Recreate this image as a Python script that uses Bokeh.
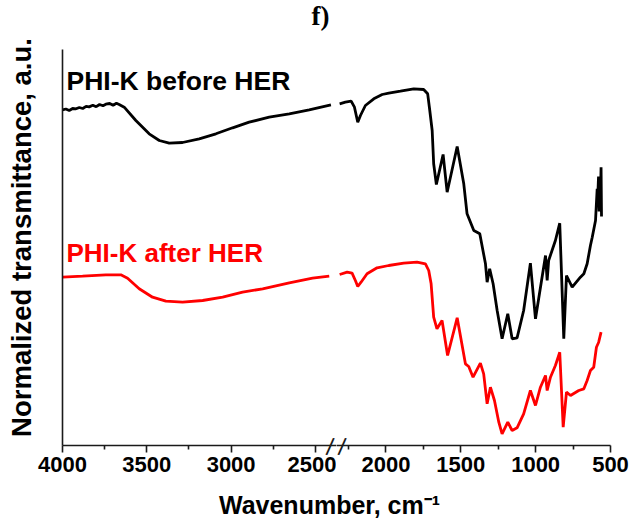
import math
from bokeh.plotting import figure
from bokeh.models import Range1d, FixedTicker, Label
from bokeh.layouts import row, column
from bokeh.embed import file_html
from bokeh.resources import INLINE

# ---------------- data (wavenumber, normalized transmittance a.u.) ----------------
before_left_wn = [4000, 3980, 3960, 3940, 3920, 3900, 3880, 3860, 3842, 3820, 3800, 3780, 3760,
                  3743, 3720, 3700, 3680, 3664, 3634, 3565, 3486, 3426, 3367, 3288, 3189, 3090,
                  2991, 2893, 2774, 2655, 2537, 2408]
before_left_T = [335.7, 336.5, 335.0, 337.0, 336.7, 338.0, 337.0, 339.2, 338.6, 340.2, 338.8, 341.0,
                 339.8, 341.3, 342.0, 340.2, 342.2, 341.0, 338.3, 325.0, 311.7, 305.0, 302.3, 303.0,
                 306.7, 311.7, 317.7, 323.3, 328.3, 331.7, 335.7, 340.7]

before_right_wn = [2309, 2271, 2232, 2210, 2188, 2170, 2137, 2081, 2025, 1981, 1903, 1814, 1748,
                   1721, 1707, 1691, 1681, 1663, 1618, 1591, 1524, 1480, 1458, 1413, 1373, 1335,
                   1324, 1307, 1284, 1257, 1224, 1186, 1157, 1124, 1080, 1035, 1001, 934, 923, 913,
                   868, 839, 812, 794, 756, 701, 678, 656, 634, 622, 600, 589, 585, 580, 576, 572,
                   568, 563, 560]
before_right_T = [341.7, 343.3, 344.3, 338.3, 323.3, 330.0, 340.0, 346.7, 351.0, 352.3, 354.3, 356.7,
                  356.0, 351.7, 335.0, 315.0, 281.7, 261.0, 291.0, 253.3, 299.0, 261.7, 231.7, 215.0,
                  211.7, 181.7, 163.3, 176.7, 161.7, 135.0, 106.7, 131.7, 106.7, 107.7, 135.0, 182.3,
                  126.7, 190.0, 165.0, 185.0, 205.0, 222.3, 106.7, 170.0, 158.3, 168.3, 171.7, 181.7,
                  200.0, 208.3, 225.0, 256.7, 249.0, 269.0, 234.0, 268.3, 245.0, 278.3, 229.0]

after_left_wn = [4000, 3881, 3743, 3654, 3614, 3545, 3466, 3387, 3288, 3169, 3050, 2932, 2813,
                 2655, 2517, 2418]
after_left_T = [168.3, 169.3, 170.7, 170.7, 167.3, 156.7, 148.3, 144.3, 143.3, 145.0, 148.3, 153.3,
                156.7, 162.7, 167.3, 169.3]

after_right_wn = [2309, 2259, 2226, 2204, 2188, 2166, 2126, 2059, 1981, 1881, 1792, 1736, 1714,
                  1698, 1681, 1659, 1625, 1588, 1524, 1469, 1447, 1418, 1369, 1347, 1324, 1302,
                  1275, 1246, 1224, 1186, 1157, 1124, 1080, 1035, 1001, 968, 934, 923, 901, 868,
                  839, 816, 794, 767, 712, 678, 656, 634, 612, 594, 579, 563]
after_right_T = [171.0, 173.3, 172.3, 165.0, 159.0, 163.3, 171.7, 177.7, 180.0, 182.3, 183.3, 181.7,
                 175.0, 161.7, 128.3, 116.7, 125.0, 90.0, 127.7, 81.7, 79.0, 68.3, 82.3, 71.7, 41.7,
                 58.3, 45.0, 23.3, 11.7, 23.3, 15.0, 17.7, 31.7, 55.0, 40.0, 58.3, 70.0, 55.0, 68.3,
                 80.0, 93.3, 18.3, 53.3, 50.0, 55.0, 56.7, 65.0, 75.0, 78.3, 98.3, 103.3, 113.3]

left_major_ticks = [4000, 3500, 3000, 2500]
left_minor_ticks = [3750, 3250, 2750]
right_major_ticks = [2000, 1500, 1000, 500]
right_minor_ticks = [2250, 1750, 1250, 750]

# ---------------- layout ----------------
W, H = 631, 526
ROW_H = 483
FRAME_L, FRAME_BRK, FRAME_R = 62, 336, 610
FRAME_T, FRAME_B = 49, 445
LEFT_RANGE = (4000, 2375)
RIGHT_RANGE = (2330, 500)
FONT = "Liberation Sans"
INK = "#1a1a1a"

y_range = Range1d(0, FRAME_B - FRAME_T)


def style_xaxis(p, major, minor):
    ax = p.xaxis[0]
    ax.ticker = FixedTicker(ticks=major, minor_ticks=minor)
    ax.axis_line_width = 1.6
    ax.axis_line_color = INK
    ax.major_tick_line_width = 1.6
    ax.minor_tick_line_width = 1.6
    ax.major_tick_line_color = INK
    ax.minor_tick_line_color = INK
    ax.major_tick_in = 0
    ax.major_tick_out = 7
    ax.minor_tick_in = 0
    ax.minor_tick_out = 4
    ax.major_label_text_font = FONT
    ax.major_label_text_font_style = "bold"
    ax.major_label_text_font_size = "22px"
    ax.major_label_text_color = "black"
    ax.major_label_standoff = 4


pl = figure(width=FRAME_BRK, height=ROW_H, x_range=Range1d(*LEFT_RANGE), y_range=y_range,
            output_backend="svg", toolbar_location=None,
            min_border_left=FRAME_L, min_border_right=0,
            min_border_top=FRAME_T, min_border_bottom=ROW_H - FRAME_B)
pr = figure(width=W - FRAME_BRK, height=ROW_H, x_range=Range1d(*RIGHT_RANGE), y_range=y_range,
            output_backend="svg", toolbar_location=None, y_axis_location=None,
            min_border_left=0, min_border_right=W - FRAME_R,
            min_border_top=FRAME_T, min_border_bottom=ROW_H - FRAME_B)
pb = figure(width=W, height=H - ROW_H, x_range=Range1d(0, W), y_range=Range1d(0, H - ROW_H),
            output_backend="svg", toolbar_location=None, x_axis_location=None,
            y_axis_location=None, min_border=0)

for p in (pl, pr, pb):
    p.xgrid.visible = False
    p.ygrid.visible = False
    p.outline_line_color = None

style_xaxis(pl, left_major_ticks, left_minor_ticks)
style_xaxis(pr, right_major_ticks, right_minor_ticks)

yax = pl.yaxis[0]
yax.ticker = FixedTicker(ticks=[])
yax.axis_line_width = 1.6
yax.axis_line_color = INK
yax.major_tick_out = 0
yax.major_label_standoff = 0
yax.major_label_text_font_size = "0px"

LW = 2.8
pl.line(before_left_wn, before_left_T, line_color="black", line_width=LW)
pl.line(after_left_wn, after_left_T, line_color="#ff0000", line_width=LW)
pr.line(before_right_wn, before_right_T, line_color="black", line_width=LW)
pr.line(after_right_wn, after_right_T, line_color="#ff0000", line_width=LW)

# helpers to place annotations at page pixel positions
sl = (FRAME_BRK - FRAME_L) / (LEFT_RANGE[0] - LEFT_RANGE[1])
sr = (FRAME_R - FRAME_BRK) / (RIGHT_RANGE[0] - RIGHT_RANGE[1])


def wl(px):
    return LEFT_RANGE[0] - (px - FRAME_L) / sl


def wr(px):
    return RIGHT_RANGE[0] - (px - FRAME_BRK) / sr


def vy(py):
    return FRAME_B - py


pl.add_layout(Label(x=wl(320), y=vy(30), text="f)", text_align="center",
                    text_font="Liberation Serif", text_font_style="bold",
                    text_font_size="27px", text_color="black"), "above")
pl.add_layout(Label(x=wl(21), y=vy(237), text="Normalized transmittance, a.u.",
                    text_align="center", text_baseline="middle", angle=math.pi / 2,
                    text_font=FONT, text_font_style="bold", text_font_size="27.5px",
                    text_color="black"), "left")
pl.add_layout(Label(x=wl(66), y=vy(95), text="PHI-K before HER", text_align="left",
                    text_font=FONT, text_font_style="bold", text_font_size="26.5px",
                    text_color="black"))
pl.add_layout(Label(x=wl(66), y=vy(267), text="PHI-K after HER", text_align="left",
                    text_font=FONT, text_font_style="bold", text_font_size="26px",
                    text_color="#ff0000"))
pb.add_layout(Label(x=329, y=H - 518, text="Wavenumber, cm\u207b\u00b9",
                    text_align="center", text_font=FONT, text_font_style="bold",
                    text_font_size="25px", text_color="black"))

# axis break marks "//" (one slash on each side of the break)
pl.add_layout(Label(x=wl(329.5), y=vy(446), text="/", text_align="center",
                    text_baseline="middle", angle=-0.15, text_font=FONT,
                    text_font_size="24px", text_color=INK), "left")
pr.add_layout(Label(x=wr(341.5), y=vy(446), text="/", text_align="center",
                    text_baseline="middle", angle=-0.15, text_font=FONT,
                    text_font_size="24px", text_color=INK), "above")

layout = column(row(pl, pr), pb)
open("out.html", "w").write(file_html(layout, INLINE))
